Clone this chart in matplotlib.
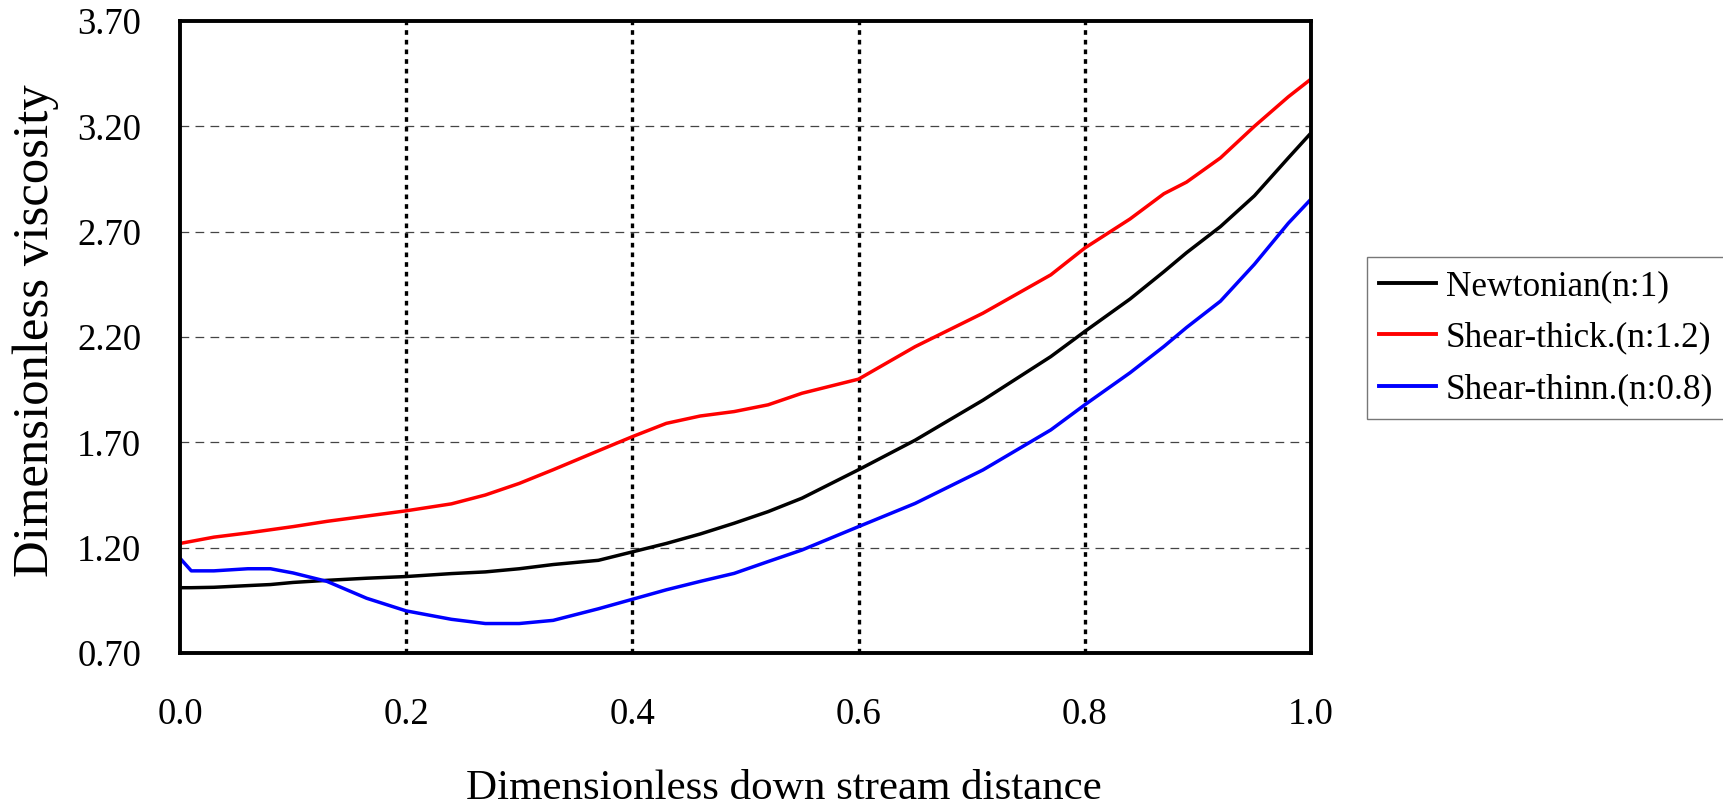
import numpy as np
import matplotlib
matplotlib.use('Agg')
import matplotlib.pyplot as plt

plt.rcParams['font.family'] = ['Liberation Serif', 'DejaVu Serif']

# ---------------------------------------------------------------------------
# Data
# ---------------------------------------------------------------------------
x_dist = [0.00, 0.01, 0.03, 0.06, 0.08, 0.10, 0.13, 0.165, 0.20, 0.24,
          0.27, 0.30, 0.33, 0.37, 0.40, 0.43, 0.46, 0.49, 0.52, 0.55,
          0.60, 0.65, 0.71, 0.77, 0.80, 0.84, 0.87, 0.89, 0.92, 0.95,
          0.98, 1.00]

newtonian = [1.010, 1.010, 1.012, 1.020, 1.025, 1.035, 1.045, 1.055, 1.063, 1.077,
             1.085, 1.100, 1.120, 1.140, 1.180, 1.220, 1.265, 1.316, 1.371, 1.435,
             1.570, 1.710, 1.900, 2.107, 2.226, 2.380, 2.510, 2.600, 2.724, 2.870,
             3.050, 3.168]

shear_thick = [1.220, 1.230, 1.250, 1.270, 1.285, 1.300, 1.325, 1.350, 1.375, 1.408,
               1.450, 1.505, 1.570, 1.660, 1.727, 1.790, 1.825, 1.846, 1.878, 1.933,
               2.000, 2.154, 2.313, 2.495, 2.622, 2.760, 2.880, 2.935, 3.050, 3.200,
               3.340, 3.424]

shear_thin = [1.150, 1.090, 1.090, 1.100, 1.100, 1.080, 1.040, 0.960, 0.900, 0.860,
              0.840, 0.840, 0.855, 0.910, 0.955, 1.000, 1.040, 1.078, 1.134, 1.189,
              1.300, 1.410, 1.569, 1.759, 1.878, 2.030, 2.155, 2.245, 2.370, 2.545,
              2.740, 2.854]

labels = ['Newtonian(n:1)', 'Shear-thick.(n:1.2)', 'Shear-thinn.(n:0.8)']
colors = ['black', 'red', 'blue']

y_ticks = [0.70, 1.20, 1.70, 2.20, 2.70, 3.20, 3.70]
x_ticks = [0.0, 0.2, 0.4, 0.6, 0.8, 1.0]

# ---------------------------------------------------------------------------
# Plot
# ---------------------------------------------------------------------------
fig = plt.figure(figsize=(17.24, 8.06), dpi=100)
ax = fig.add_axes([0.1044, 0.1898, 0.6560, 0.7842])

for series, lab, col in zip([newtonian, shear_thick, shear_thin], labels, colors):
    ax.plot(x_dist, series, color=col, linewidth=2.5, label=lab, zorder=3)

# grid: dotted verticals, dashed horizontals
for xv in x_ticks[1:-1]:
    ax.axvline(xv, color='black', linewidth=2.4, linestyle=(0, (1.4, 1.5)), zorder=1)
for yv in y_ticks[1:-1]:
    ax.axhline(yv, color='#444444', linewidth=0.9, linestyle=(0, (7, 5)), zorder=1)

ax.set_xlim(0, 1)
ax.set_ylim(0.70, 3.70)
ax.set_xticks(x_ticks)
ax.set_xticklabels([f'{v:.1f}' for v in x_ticks])
ax.set_yticks(y_ticks)
ax.set_yticklabels([f'{v:.2f}' for v in y_ticks])
ax.tick_params(axis='both', length=0, labelsize=26.5)
ax.tick_params(axis='x', pad=32)
ax.tick_params(axis='y', pad=28)

for sp in ax.spines.values():
    sp.set_linewidth(2.8)
    sp.set_zorder(4)

ax.set_xlabel('Dimensionless down stream distance', fontsize=31)
ax.xaxis.set_label_coords(0.534, -0.185)
ax.set_ylabel('Dimensionless viscosity', fontsize=36.5)
ax.yaxis.set_label_coords(-0.107, 0.51)

leg = fig.legend(loc='upper left', bbox_to_anchor=(0.7927, 0.6808),
                 fontsize=25.4, frameon=True, fancybox=False,
                 handlelength=1.6, handletextpad=0.28, labelspacing=0.53,
                 borderpad=0.36, borderaxespad=0)
leg.get_frame().set_edgecolor('#555555')
leg.get_frame().set_linewidth(1.0)
for ln in leg.get_lines():
    ln.set_linewidth(2.8)

fig.savefig('out.png', dpi=100)
plt.close(fig)
